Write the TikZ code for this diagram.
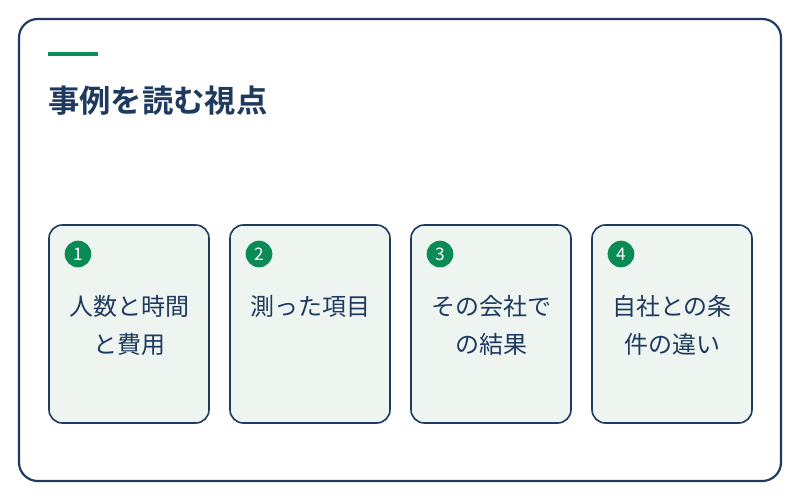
\documentclass[tikz,border=0pt]{standalone}
\usepackage{fontspec}
\newfontfamily\cjk{Noto Sans CJK JP}
\newfontfamily\cjkb{Noto Sans CJK JP}[BoldFont={* Bold}]
\definecolor{navy}{HTML}{1E3A5F}
\definecolor{grn}{HTML}{0A8A55}
\definecolor{cardbg}{HTML}{EEF5F0}
\begin{document}
\begin{tikzpicture}[x=0.75pt,y=-0.75pt,
  card/.style={draw=navy,line width=1.2pt,fill=cardbg,rounded corners=10pt},
  num/.style={circle,fill=grn,text=white,inner sep=0pt,minimum size=20pt,font=\cjk\fontsize{13}{13}\selectfont},
  lbl/.style={text=navy,align=center,font=\cjk\fontsize{18}{28}\selectfont}]
\useasboundingbox (0,0) rectangle (800,500);
\fill[white] (0,0) rectangle (800,500);
\draw[navy,line width=1.6pt,rounded corners=14pt] (19,19) rectangle (781,481);
\draw[grn,line width=3pt] (48,54) -- (98,54);
\node[anchor=west,text=navy,font=\cjkb\bfseries\fontsize{23.5}{24}\selectfont,inner sep=0pt] (title) at (48,101) {事例を読む視点};
\foreach \i/\x/\t in {1/49/{人数と時間\\と費用},2/230/{測った項目},3/411/{その会社で\\の結果},4/592/{自社との条\\件の違い}}{
  \draw[card] (\x,225) rectangle ++(160,198);
  \node[num] (n\i) at (\x+29,254) {\i};
  \node[lbl,anchor=north] (t\i) at (\x+80,291) {\t};
}
\end{tikzpicture}
\end{document}
